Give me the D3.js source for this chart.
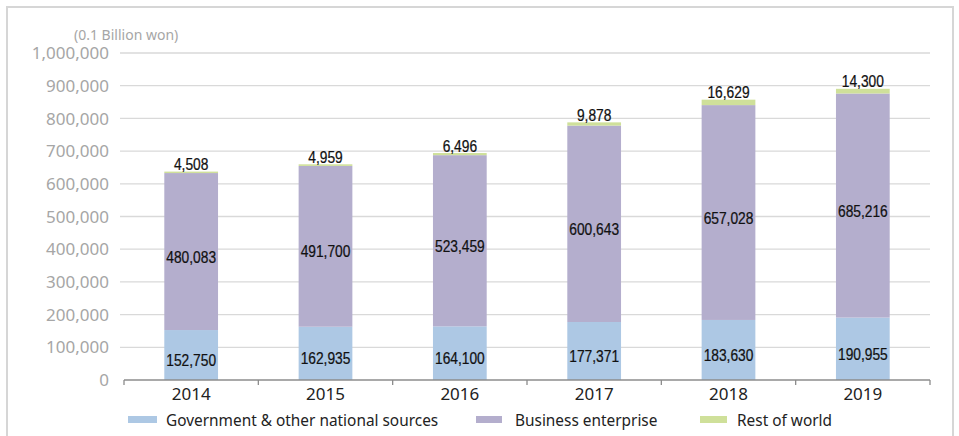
<!DOCTYPE html>
<html>
<head>
<meta charset="utf-8">
<script src="https://cdn.jsdelivr.net/npm/d3@7"></script>
<style>
  html, body { margin: 0; padding: 0; background: #fff; }
  svg { display: block; }
</style>
</head>
<body>
<svg id="chart" width="959" height="436"></svg>
<script>
// R&D expenditure by source of funds (unit: 0.1 billion won)
const years = ["2014", "2015", "2016", "2017", "2018", "2019"];
const government = [152750, 162935, 164100, 177371, 183630, 190955];
const business = [480083, 491700, 523459, 600643, 657028, 685216];
const restOfWorld = [4508, 4959, 6496, 9878, 16629, 14300];
const seriesNames = ["Government & other national sources", "Business enterprise", "Rest of world"];
const seriesColors = ["#adc8e4", "#b4aecd", "#cfe09a"];
const yTicks = [0, 100000, 200000, 300000, 400000, 500000, 600000, 700000, 800000, 900000, 1000000];
const unitLabel = "(0.1 Billion won)";

const svg = d3.select("#chart");
const labelFont = "'Liberation Sans', Arial, sans-serif";
const axisFont = "'Noto Sans', 'DejaVu Sans', sans-serif";
const narrow = 0.81; // horizontal squeeze for the condensed value labels

// outer frame
svg.append("rect")
  .attr("x", 7).attr("y", 7).attr("width", 946).attr("height", 440)
  .attr("fill", "none").attr("stroke", "#d6d6d6").attr("stroke-width", 2);

const y = d3.scaleLinear().domain([0, 1000000]).range([380, 53]);
const x = d3.scaleBand().domain(years).range([124, 930]).paddingInner(0.6).paddingOuter(0.3);
const xEdge = d3.scaleBand().domain(years).range([124, 930]);

// gridlines
svg.append("g").selectAll("line").data(yTicks.filter(d => d > 0)).join("line")
  .attr("x1", 120).attr("x2", 930)
  .attr("y1", d => y(d)).attr("y2", d => y(d))
  .attr("stroke", "#d9d9d9").attr("stroke-width", 1.3);

// y tick labels
svg.append("g").selectAll("text").data(yTicks).join("text")
  .attr("x", 109).attr("y", d => y(d))
  .attr("dy", "0.36em")
  .attr("text-anchor", "end")
  .attr("font-family", axisFont).attr("font-size", 17)
  .attr("fill", "#a6a6a6")
  .text(d => d3.format(",")(d));

svg.append("text")
  .attr("x", 74).attr("y", 40)
  .attr("font-family", axisFont).attr("font-size", 14)
  .attr("fill", "#a6a6a6")
  .text(unitLabel);

// stacked bars
const rows = years.map((yr, i) => ({ year: yr, gov: government[i], bus: business[i], row: restOfWorld[i] }));
const stack = d3.stack().keys(["gov", "bus", "row"])(rows);

const layers = svg.append("g").selectAll("g").data(stack).join("g")
  .attr("fill", (d, i) => seriesColors[i]);
layers.selectAll("rect").data(d => d).join("rect")
  .attr("x", d => x(d.data.year))
  .attr("width", x.bandwidth())
  .attr("y", d => y(d[1]))
  .attr("height", d => y(d[0]) - y(d[1]));

// x axis
svg.append("line")
  .attr("x1", 124).attr("x2", 930).attr("y1", y(0)).attr("y2", y(0))
  .attr("stroke", "#8c8c8c").attr("stroke-width", 1.5);
const edges = years.map(d => xEdge(d)).concat([930]);
svg.append("g").selectAll("line").data(edges).join("line")
  .attr("x1", d => d).attr("x2", d => d)
  .attr("y1", y(0)).attr("y2", y(0) + 5)
  .attr("stroke", "#8c8c8c").attr("stroke-width", 1.3);

svg.append("g").selectAll("text").data(years).join("text")
  .attr("x", d => x(d) + x.bandwidth() / 2)
  .attr("y", 400)
  .attr("text-anchor", "middle")
  .attr("font-family", axisFont).attr("font-size", 17)
  .attr("fill", "#222")
  .text(d => d);

// value labels
const fmt = d3.format(",");
const labels = svg.append("g")
  .attr("font-family", labelFont).attr("font-size", 17)
  .attr("fill", "#111").attr("text-anchor", "middle");

stack.forEach((layer, li) => {
  labels.selectAll(null).data(layer).join("text")
    .attr("transform", d => {
      const cx = x(d.data.year) + x.bandwidth() / 2;
      const cy = li === 2 ? y(d[1]) - 1.5 : (y(d[0]) + y(d[1])) / 2 + 5;
      return `translate(${cx},${cy}) scale(${narrow},1)`;
    })
    .attr("dy", li === 2 ? 0 : "0.36em")
    .attr("stroke", "#111").attr("stroke-width", 0.25)
    .text(d => fmt(d[1] - d[0]));
});

// legend
const legendItems = [
  { name: seriesNames[0], color: seriesColors[0], sx: 128, sw: 29, tx: 166 },
  { name: seriesNames[1], color: seriesColors[1], sx: 476, sw: 26, tx: 515 },
  { name: seriesNames[2], color: seriesColors[2], sx: 700, sw: 27, tx: 737 }
];
const leg = svg.append("g").selectAll("g").data(legendItems).join("g");
leg.append("rect")
  .attr("x", d => d.sx).attr("y", 416).attr("width", d => d.sw).attr("height", 7)
  .attr("fill", d => d.color);
leg.append("text")
  .attr("x", d => d.tx).attr("y", 420)
  .attr("dy", "0.36em")
  .attr("font-family", axisFont).attr("font-size", 15.4)
  .attr("fill", "#222")
  .text(d => d.name);
</script>
</body>
</html>
